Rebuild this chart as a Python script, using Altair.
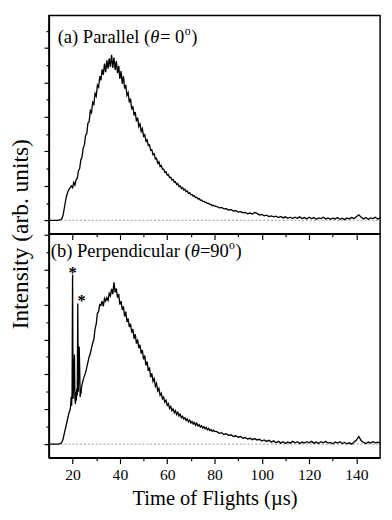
import altair as alt
import pandas as pd

FONT = "'Liberation Serif', 'Times New Roman', Times, serif"

# ---------------- time grids ----------------
fine_t = [round(10 + 0.5 * i, 1) for i in range(141)]        # 10.0 .. 80.0
coarse_t = list(range(81, 151))                                # 81 .. 150
b_tA = [round(10 + 0.5 * i, 1) for i in range(18)]             # 10.0 .. 18.5
b_tB = [round(19 + 0.2 * i, 1) for i in range(25)]             # 19.0 .. 23.8
b_tC = [round(24 + 0.5 * i, 1) for i in range(113)]            # 24.0 .. 80.0

# ---------------- (a) Parallel ----------------
a_fine = [
    0, 0, 0, 0, 0, 0, 0, 0, 0, 0.01,
    0.02, 0.05, 0.15, 0.35, 0.55, 0.72, 0.82, 0.9, 0.95, 1.0,
    0.95, 1.1, 1.02, 1.18, 1.22, 1.44, 1.5, 1.76, 1.84, 2.1,
    2.18, 2.46, 2.52, 2.82, 2.86, 3.18, 3.12, 3.42, 3.36, 3.68,
    3.6, 3.92, 3.86, 4.18, 4.06, 4.38, 4.22, 4.55, 4.3, 4.64,
    4.4, 4.7, 4.45, 4.8, 4.42, 4.72, 4.36, 4.62, 4.27, 4.48,
    4.1, 4.33, 3.96, 4.18, 3.82, 3.93, 3.62, 3.7, 3.42, 3.53,
    3.22, 3.31, 3.04, 3.14, 2.87, 2.98, 2.72, 2.8, 2.58, 2.66,
    2.44, 2.48, 2.3, 2.34, 2.17, 2.19, 2.03, 2.05, 1.9, 1.93,
    1.78, 1.8, 1.66, 1.7, 1.56, 1.59, 1.48, 1.49, 1.39, 1.41,
    1.31, 1.33, 1.24, 1.25, 1.17, 1.18, 1.1, 1.12, 1.04, 1.06,
    0.98, 1.0, 0.93, 0.95, 0.88, 0.9, 0.83, 0.85, 0.78, 0.8,
    0.74, 0.75, 0.7, 0.71, 0.66, 0.67, 0.62, 0.63, 0.58, 0.59,
    0.55, 0.55, 0.52, 0.52, 0.49, 0.49, 0.46, 0.46, 0.43, 0.43,
    0.42,
]
a_coarse = [
    0.4, 0.36, 0.37, 0.33, 0.34, 0.3, 0.31, 0.27, 0.28, 0.24,
    0.25, 0.22, 0.23, 0.19, 0.21, 0.18, 0.23, 0.2, 0.15, 0.17,
    0.13, 0.15, 0.11, 0.13, 0.1, 0.12, 0.08, 0.11, 0.07, 0.1,
    0.06, 0.09, 0.05, 0.09, 0.06, 0.1, 0.05, 0.08, 0.04, 0.09,
    0.05, 0.08, 0.03, 0.07, 0.05, 0.09, 0.04, 0.07, 0.03, 0.06,
    0.04, 0.08, 0.03, 0.06, 0.02, 0.07, 0.04, 0.08, 0.05, 0.1,
    0.16, 0.09, 0.04, 0.08, 0.03, 0.07, 0.05, 0.09, 0.04, 0.07,
]

# ---------------- (b) Perpendicular ----------------
b_A = [
    0, 0, 0, 0, 0, 0, 0, 0, 0, 0.01,
    0.02, 0.06, 0.15, 0.3, 0.45, 0.6, 0.75, 0.9,
]
b_B = [
    1.0, 1.1, 1.35, 1.1, 1.5, 4.86, 1.3, 1.6, 2.1, 2.57,
    1.3, 1.15, 1.5, 1.25, 1.6, 1.4, 4.03, 1.5, 2.0, 2.8,
    2.2, 1.35, 1.5, 1.45, 1.65,
]
b_C = [
    1.7, 1.85, 1.95, 2.05, 2.2, 2.35, 2.5, 2.6, 2.75, 2.9,
    3.0, 3.3, 3.45, 3.75, 3.8, 4.0, 3.98, 4.1, 3.95, 4.18,
    4.1, 4.2, 4.12, 4.32, 4.25, 4.45, 4.3, 4.64, 4.35, 4.46,
    4.2, 4.3, 4.0, 4.1, 3.85, 3.95, 3.66, 3.8, 3.5, 3.6,
    3.36, 3.45, 3.2, 3.3, 3.02, 3.15, 2.88, 3.0, 2.75, 2.85,
    2.6, 2.7, 2.43, 2.54, 2.26, 2.37, 2.1, 2.2, 1.92, 2.03,
    1.8, 1.88, 1.66, 1.74, 1.53, 1.6, 1.4, 1.46, 1.3, 1.35,
    1.2, 1.26, 1.11, 1.16, 1.02, 1.08, 0.96, 1.01, 0.9, 0.96,
    0.85, 0.91, 0.81, 0.86, 0.76, 0.8, 0.72, 0.76, 0.68, 0.72,
    0.64, 0.69, 0.61, 0.65, 0.58, 0.62, 0.54, 0.6, 0.52, 0.56,
    0.49, 0.53, 0.46, 0.5, 0.44, 0.48, 0.41, 0.45, 0.39, 0.42,
    0.37, 0.4,
    0.37,
]
b_coarse = [
    0.36, 0.31, 0.33, 0.28, 0.3, 0.25, 0.27, 0.22, 0.24, 0.2,
    0.22, 0.17, 0.19, 0.15, 0.17, 0.13, 0.16, 0.12, 0.14, 0.09,
    0.12, 0.08, 0.11, 0.06, 0.1, 0.04, 0.08, 0.03, 0.07, 0.02,
    0.06, 0.03, 0.08, 0.04, 0.07, 0.02, 0.06, 0.03, 0.07, 0.04,
    0.08, 0.03, 0.06, 0.02, 0.07, 0.04, 0.08, 0.03, 0.05, 0.01,
    0.06, 0.03, 0.07, 0.02, 0.05, 0.01, 0.04, 0.0, 0.06, 0.12,
    0.22, 0.1, 0.05, 0.02, 0.06, 0.03, 0.07, 0.04, 0.06, 0.03,
]

star_t = [20.0, 22.2]
star_v = [4.86, 4.03]

x_major = [20, 40, 60, 80, 100, 120, 140]
x_minor = [30, 50, 70, 90, 110, 130]
y_major_a = [0, 1, 2, 3, 4, 5]
y_minor_a = [0.5, 1.5, 2.5, 3.5, 4.5, 5.5]
y_major_b = [0, 1, 2, 3, 4, 5, 6]
y_minor_b = [0.5, 1.5, 2.5, 3.5, 4.5, 5.5]

assert len(a_fine) == len(fine_t), len(a_fine)
assert len(a_coarse) == len(coarse_t), len(a_coarse)
assert len(b_A) == len(b_tA) and len(b_B) == len(b_tB) and len(b_C) == len(b_tC)
assert len(b_coarse) == len(coarse_t)

df_a = pd.DataFrame({"t": fine_t + coarse_t, "v": a_fine + a_coarse})
df_b = pd.DataFrame({"t": b_tA + b_tB + b_tC + coarse_t, "v": b_A + b_B + b_C + b_coarse})

W = 340


def x_major_axis(labels):
    kw = dict(values=x_major, tickSize=6, labels=labels, labelFontSize=16, labelPadding=3,
              labelOverlap=False, orient="bottom")
    if labels:
        kw.update(title="Time of Flights (µs)", titleFontSize=21, titlePadding=6)
    else:
        kw.update(title=None)
    return alt.Axis(**kw)


def y_major_axis(values, title):
    kw = dict(values=values, labels=False, tickSize=5, orient="left")
    if title:
        kw.update(title="Intensity (arb. units)", titleFontSize=24, titleX=-17, titleY=224,
                  titleAngle=-90, titleAlign="center", titleBaseline="bottom")
    else:
        kw.update(title=None)
    return alt.Axis(**kw)


def label_layers(normal, italic, sup):
    layers = []
    for rows, style, size in ((normal, "normal", 19), (italic, "italic", 19), (sup, "normal", 12)):
        d = pd.DataFrame(rows, columns=["s", "px", "py"])
        layers.append(
            alt.Chart(d).mark_text(font=FONT, fontSize=size, fontStyle=style, align="left",
                                   baseline="alphabetic", color="black")
            .encode(x=alt.X("px:Q", scale=None), y=alt.Y("py:Q", scale=None), text="s:N")
        )
    return layers


def panel(df, ydom, h, ymaj, ymin, xlabels, ytitle, labels, stars=False):
    xs = alt.Scale(domain=[10, 150], nice=False, zero=False)
    ys = alt.Scale(domain=ydom, nice=False, zero=False)
    base = pd.DataFrame({"x0": [10], "x1": [150], "y0": [0]})
    rule = alt.Chart(base).mark_rule(color="#9a9a9a", strokeDash=[2, 2], strokeWidth=1).encode(
        x=alt.X("x0:Q", scale=xs, axis=alt.Axis(values=x_minor, tickSize=3, labels=False,
                                                 title=None, domain=False, orient="bottom")),
        x2="x1:Q",
        y=alt.Y("y0:Q", scale=ys, axis=alt.Axis(values=ymin, tickSize=3, labels=False,
                                                 title=None, domain=False, orient="left")),
    )
    line = alt.Chart(df).mark_line(color="black", strokeWidth=1.35).encode(
        x=alt.X("t:Q", scale=xs, axis=x_major_axis(xlabels)),
        y=alt.Y("v:Q", scale=ys, axis=y_major_axis(ymaj, ytitle)),
    )
    layers = [rule, line]
    if stars:
        sd = pd.DataFrame({"t": star_t, "v": star_v, "s": ["*", "*"], "dx": [0, 4]})
        for i in range(2):
            layers.append(
                alt.Chart(sd.iloc[[i]]).mark_text(font=FONT, fontSize=17, fontWeight="bold",
                                                  baseline="alphabetic", dy=3, dx=int(sd.dx[i]),
                                                  color="black")
                .encode(x=alt.X("t:Q", scale=xs, axis=None), y=alt.Y("v:Q", scale=ys, axis=None),
                        text="s:N")
            )
    layers += label_layers(*labels)
    return (alt.layer(*layers)
            .resolve_axis(x="independent", y="independent")
            .properties(width=W, height=h))


labels_a = (
    [("(a) Parallel (", 9, 28), ("= 0", 114, 28), (")", 146, 28)],
    [("θ", 104, 28)],
    [("o", 139.5, 20)],
)
labels_b = (
    [("(b) Perpendicular (", 2, 24), ("=90", 155, 24), (")", 191.5, 24)],
    [("θ", 145.5, 24)],
    [("o", 185, 16)],
)

top = panel(df_a, [-0.39, 5.94], 224, y_major_a, y_minor_a, False, True, labels_a)
bottom = panel(df_b, [-0.39, 6.03], 230, y_major_b, y_minor_b, True, False, labels_b, stars=True)

chart = (
    alt.vconcat(top, bottom, spacing=0, bounds="flush")
    .properties(padding=0)
    .configure(font=FONT)
    .configure_view(stroke="black", strokeWidth=1.5)
    .configure_axis(
        domainColor="black", domainWidth=1.5, tickColor="black", tickWidth=1.2,
        labelFont=FONT, labelColor="black", titleFont=FONT, titleColor="black",
        titleFontWeight="normal", grid=False,
    )
)

chart.save("out.html", embed_options={"renderer": "svg", "actions": False})
